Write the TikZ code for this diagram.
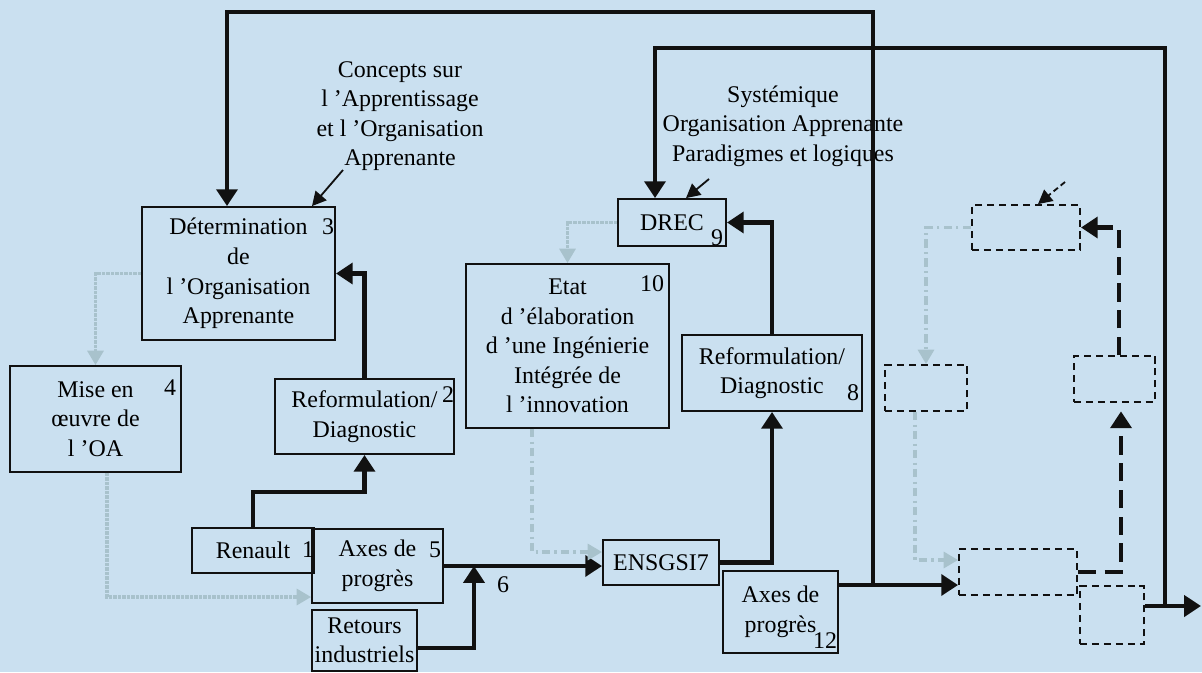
\documentclass[tikz,border=0pt]{standalone}
\usepackage{fontspec}
\setmainfont{Liberation Serif}
\usetikzlibrary{positioning, arrows.meta}
\definecolor{bgBlue}{HTML}{CAE0F0}
\definecolor{fGrey}{HTML}{A8C2CC}
\definecolor{nInk}{HTML}{111111}
\tikzset{
  box/.style={draw=nInk, line width=1.3pt, align=center, inner sep=1pt,
    font=\fontsize{17}{21}\selectfont},
  ghost/.style={draw=nInk, line width=1.3pt, dash pattern=on 5pt off 3.5pt},
  num/.style={inner sep=0pt, font=\fontsize{17}{21}\selectfont},
  note/.style={align=center, font=\fontsize{17}{21}\selectfont},
}

\begin{document}
\begin{tikzpicture}[x=0.025cm, y=-0.025cm,
    flow/.style={-{Triangle[length=0.42cm,width=0.52cm]}, line width=3.5pt, nInk},
    bigflow/.style={flow, dash pattern=on 13pt off 6pt},
    faint/.style={-{Triangle[length=0.36cm,width=0.4cm]}, line width=2.2pt, fGrey, densely dotted},
    faintdash/.style={faint, dash pattern=on 6pt off 3pt on 1.5pt off 3pt},
    pointer/.style={-{Triangle[length=0.35cm,width=0.36cm]}, line width=1.3pt, nInk}]
  \useasboundingbox (0,0) rectangle (1202,672);
  \fill[bgBlue] (0,0) rectangle (1202,672);

  % left part
  \node[box, minimum width=4.825cm, minimum height=3.325cm] (b3) at (238.5,273.5)
    {Détermination\\de\\l ’Organisation\\Apprenante};
  \node[box, minimum width=4.275cm, minimum height=2.65cm] (b4) at (95.5,419)
    {Mise en\\œuvre de\\l ’OA};
  \node[box, minimum width=4.475cm, minimum height=1.875cm] (b2) at (364.5,416.5)
    {Reformulation/\\Diagnostic};
  \node[box, minimum width=3.05cm, minimum height=1.125cm] (ren) at (253,550.5) {Renault};
  \node[box, minimum width=3.275cm, minimum height=1.85cm] (a5) at (377.5,566) {Axes de\\progrès};
  \node[box, minimum width=2.625cm, minimum height=1.525cm] (ret) at (364.5,640.5)
    {Retours\\industriels};
  \node[note] (concepts) at (400,116)
    {Concepts sur\\l ’Apprentissage\\et l ’Organisation\\Apprenante};

  % middle part
  \node[box, minimum width=2.7cm, minimum height=1.175cm] (drec) at (672,222.5) {DREC};
  \node[box, minimum width=5.075cm, minimum height=4.1cm] (b10) at (567.5,346)
    {Etat\\d ’élaboration\\d ’une Ingénierie\\Intégrée de\\l ’innovation};
  \node[box, minimum width=2.9cm, minimum height=1.125cm] (ens) at (661,562.5) {ENSGSI7};
  \node[box, minimum width=4.5cm, minimum height=1.9cm] (b8) at (772,373)
    {Reformulation/\\Diagnostic};
  \node[box, minimum width=2.875cm, minimum height=2.05cm] (b12) at (780.5,612)
    {Axes de\\progrès};
  \node[note] (syst) at (783,126)
    {Systémique\\Organisation Apprenante\\Paradigmes et logiques};

  % right part, empty boxes
  \node[ghost, minimum width=2.7cm, minimum height=1.125cm] (dA) at (1026,227.5) {};
  \node[ghost, minimum width=2.05cm, minimum height=1.15cm] (dB) at (926,388) {};
  \node[ghost, minimum width=2.95cm, minimum height=1.15cm] (dC) at (1018,572) {};
  \node[ghost, minimum width=2.025cm, minimum height=1.15cm] (dD) at (1114.5,379) {};
  \node[ghost, minimum width=1.6cm, minimum height=1.45cm] (dE) at (1112,615) {};

  % numbers
  \node[num] (n1) at (308,550) {1};
  \node[num] (n2) at (448,395) {2};
  \node[num] (n3) at (328,227) {3};
  \node[num] (n4) at (170,388) {4};
  \node[num] (n5) at (435,550) {5};
  \node[num] (n6) at (503,585) {6};
  \node[num] (n8) at (853,393) {8};
  \node[num] (n9) at (717,238) {9};
  \node[num] (n10) at (652,284) {10};
  \node[num] (n12) at (825,641) {12};

  % main flows
  \draw[flow] (ren.north) |- (b2.south |- 0,492) -- (b2.south);
  \draw[flow] (b2.north) |- (b3.east);
  \draw[flow] (a5.east) -- (a5.east -| ens.west);
  \draw[flow] (ret.east |- 0,648) -| (a5.east -| 474,0);
  \draw[flow] (ens.east) -| (b8.south);
  \draw[flow] (b8.north) |- (drec.east);
  \coordinate (j1) at (873,585);
  \draw[flow] (b12.east |- j1) -- (dC.west |- j1);
  \draw[flow] (j1) |- (227,12) -- (b3.north -| 227,0);
  \coordinate (j2) at (1165,606);
  \coordinate (out) at (1201,606);
  \draw[flow] (dE.east |- j2) -- (out);
  \draw[flow] (j2) |- (655,48) -- (drec.north -| 655,0);
  \draw[bigflow, shorten >=6pt] (dC.east) -| (dD.south -| 1121,0);
  \draw[bigflow] (dD.north -| 1119,0) |- (dA.east);

  % faint flows
  \draw[faint] (b3.west) -| (b4.north);
  \draw[faint] (b4.south -| 107,0) |- (a5.west |- 0,597);
  \draw[faint] (drec.west) -| (b10.north);
  \draw[faintdash] (b10.south -| 532,0) |- (ens.west |- 0,552);
  \draw[faintdash] (dA.west) -| (dB.north);
  \draw[faintdash] (dB.south -| 915,0) |- (dC.west |- 0,560);

  % pointers from the notes
  \coordinate (c1) at (343,170);
  \draw[pointer] (c1) -- (b3.north -| 312,0);
  \coordinate (s1) at (709,179);
  \draw[pointer] (s1) -- (drec.north -| 686,0);
  \coordinate (a1) at (1065,182);
  \draw[pointer, dash pattern=on 4pt off 2.5pt] (a1) -- (dA.north -| 1038,0);
\end{tikzpicture}
\end{document}
